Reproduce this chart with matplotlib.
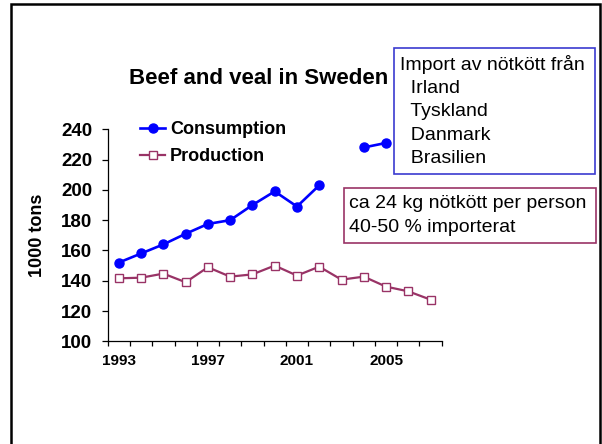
import matplotlib
matplotlib.use('Agg')
import matplotlib.pyplot as plt
import numpy as np
from matplotlib.patches import Rectangle

plt.rcParams['font.family'] = ['Liberation Sans', 'DejaVu Sans']

# data (1000 tons)
years = list(range(1993, 2008))
consumption = [152, 158, 164, 171, 177.5, 180, 190, 199, 189, 203,
               np.nan, 228, 231, np.nan, np.nan]
production = [141.6, 142, 144.7, 139, 148.9, 142.7, 144.2, 150, 143.4, 149.3,
              140.7, 142.7, 136.1, 133, 127.5]
label_years = [1993, 1997, 2001, 2005]
import_lines = ['Import av nötkött från', '  Irland', '  Tyskland', '  Danmark', '  Brasilien']
note_lines = ['ca 24 kg nötkött per person', '40-50 % importerat']

W, H = 602, 444
fig = plt.figure(figsize=(W / 100, H / 100), dpi=100)

def fx(px):
    return px / W

def fy(py):
    return 1 - py / H

# axes area in pixels: x 107.7..441.7, y 129.3..341.3
ax = fig.add_axes([fx(107.7), fy(341.3), fx(441.7) - fx(107.7), fy(129.3) - fy(341.3)])

x = np.arange(len(years))
ax.plot(x, consumption, color='#0000FF', lw=1.9, marker='o', ms=6.5,
        label='Consumption')
ax.plot(x, production, color='#993366', lw=1.6, marker='s', ms=5.5,
        mfc='white', mec='#993366', mew=1.0, label='Production')

ax.set_xlim(-0.5, len(years) - 0.5)
ax.set_ylim(100, 240)
ax.set_yticks(np.arange(100, 241, 20))
for t in ax.get_yticklabels():
    t.set_fontweight('bold')
ax.tick_params(axis='y', direction='out', length=4.3, width=0.9, labelsize=13.5, pad=7)

ax.set_xticks(np.arange(-0.5, len(years), 1))
ax.set_xticklabels([])
ax.set_xticks([years.index(y) for y in label_years], minor=True)
ax.set_xticklabels([str(y) for y in label_years], minor=True,
                   fontsize=11, fontweight='bold')
ax.tick_params(axis='x', which='major', direction='out', length=3.6, width=0.9)
ax.tick_params(axis='x', which='minor', length=0, pad=9)

for s in ['top', 'right']:
    ax.spines[s].set_visible(False)
for s in ['left', 'bottom']:
    ax.spines[s].set_linewidth(0.9)

leg = ax.legend(loc='upper left', bbox_to_anchor=(fx(140), fy(121)),
                bbox_transform=fig.transFigure, frameon=False,
                prop={'size': 13, 'weight': 'bold'}, handlelength=1.4,
                handletextpad=0.25, labelspacing=0.55, borderpad=0,
                borderaxespad=0)

fig.text(fx(259), fy(79), 'Beef and veal in Sweden', fontsize=16,
         fontweight='bold', ha='center', va='center')
fig.text(fx(38), fy(235), '1000 tons', fontsize=13, fontweight='bold',
         rotation=90, ha='center', va='center')

# outer frame
fig.patches.append(Rectangle((fx(11), fy(460)), fx(599.5) - fx(11), fy(4) - fy(460),
                             transform=fig.transFigure, fill=False,
                             edgecolor='black', lw=1.8, zorder=5))

# import box
fig.patches.append(Rectangle((fx(394), fy(174)), fx(595) - fx(394), fy(48) - fy(174),
                             transform=fig.transFigure, facecolor='white',
                             edgecolor='#3B3BD0', lw=1.2, zorder=4))
for i, line in enumerate(import_lines):
    fig.text(fx(400), fy(64.5 + i * 23.6), line, fontsize=14, ha='left',
             va='center', zorder=6)

# note box
fig.patches.append(Rectangle((fx(343.5), fy(242.7)), fx(596) - fx(343.5), fy(187.5) - fy(242.7),
                             transform=fig.transFigure, facecolor='white',
                             edgecolor='#993366', lw=1.2, zorder=4))
for i, line in enumerate(note_lines):
    fig.text(fx(349), fy(204 + i * 23.6), line, fontsize=14, ha='left',
             va='center', zorder=6)

plt.savefig('out.png', dpi=100)
plt.close()
